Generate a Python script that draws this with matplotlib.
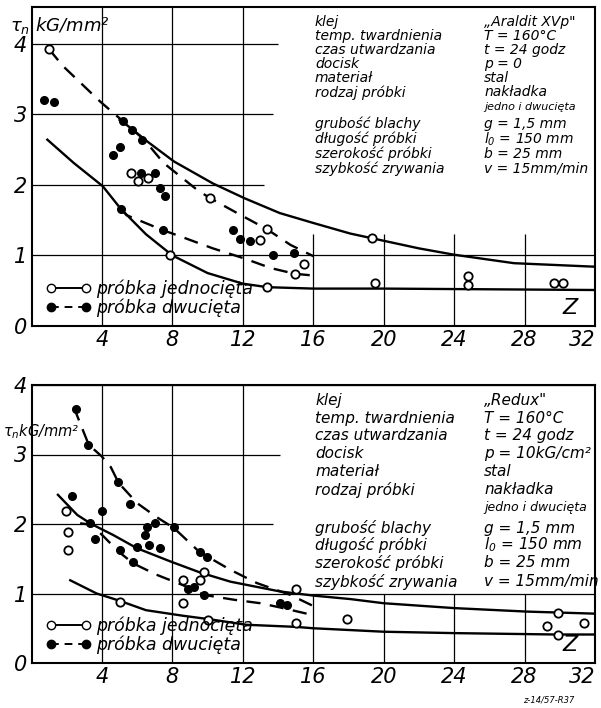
import numpy as np
import matplotlib
matplotlib.use('Agg')
from matplotlib import pyplot as plt
from matplotlib.lines import Line2D

plt.rcParams['font.family'] = ['DejaVu Sans']
plt.rcParams['font.style'] = 'italic'
plt.rcParams['mathtext.fontset'] = 'dejavusans'

# ---- upper panel (Araldit) ----
a_sol_up_x = [5.0, 5.4, 6.6, 8.1, 10.3, 12.1, 14.1, 16.0, 18.1, 19.4, 22.0, 24.0, 27.4, 32.0]
a_sol_up_y = [2.92, 2.85, 2.61, 2.33, 2.02, 1.81, 1.60, 1.46, 1.31, 1.24, 1.10, 1.01, 0.89, 0.84]
a_sol_lo_x = [0.9, 2.4, 4.05, 5.07, 6.5, 8.0, 10.0, 12.0, 13.4, 16.0, 20.0, 26.0, 32.0]
a_sol_lo_y = [2.64, 2.31, 1.98, 1.66, 1.30, 1.00, 0.75, 0.60, 0.55, 0.53, 0.53, 0.52, 0.51]
a_dash_up_x = [1.0, 1.8, 3.9, 5.2, 6.4, 7.5, 9.4, 10.15, 11.9, 13.38, 14.7, 16.0]
a_dash_up_y = [3.92, 3.68, 3.18, 2.90, 2.64, 2.31, 1.93, 1.81, 1.57, 1.37, 1.15, 0.99]
a_dash_lo_x = [5.07, 5.4, 7.44, 8.45, 10.3, 12.05, 13.6, 14.95, 15.8]
a_dash_lo_y = [1.66, 1.57, 1.36, 1.27, 1.10, 0.96, 0.82, 0.74, 0.72]
a_open_x = [1.0, 5.64, 6.02, 6.59, 7.88, 10.15, 12.96, 13.38, 13.4, 14.95, 15.46, 19.35,
            19.5, 24.8, 24.8, 29.7, 30.2]
a_open_y = [3.92, 2.17, 2.06, 2.09, 1.00, 1.81, 1.22, 1.37, 0.55, 0.74, 0.88, 1.24,
            0.61, 0.71, 0.58, 0.61, 0.61]
a_fill_x = [0.71, 1.28, 4.65, 5.05, 5.2, 5.7, 6.3, 6.2, 7.02, 7.27, 7.59, 5.07, 7.44,
            11.45, 11.84, 12.43, 13.72, 14.9]
a_fill_y = [3.20, 3.18, 2.43, 2.53, 2.90, 2.78, 2.64, 2.17, 2.17, 1.95, 1.84, 1.66, 1.36,
            1.36, 1.23, 1.20, 1.01, 1.04]
a_names = ['klej', 'temp. twardnienia', 'czas utwardzania', 'docisk', 'materiał',
           'rodzaj próbki', '', 'grubość blachy', 'długość próbki', 'szerokość próbki',
           'szybkość zrywania']
a_values = ['„Araldit XVp"', 'T = 160°C', 't = 24 godz', 'p = 0', 'stal', 'nakładka',
            'jedno i dwucięta', 'g = 1,5 mm', 'l$_0$ = 150 mm', 'b = 25 mm', 'v = 15mm/min']

# ---- lower panel (Redux) ----
r_dash_up_x = [2.4, 3.25, 4.0, 4.5, 4.95, 6.0, 7.1, 8.1, 9.4, 10.0, 11.3, 12.8, 14.7, 16.0]
r_dash_up_y = [3.68, 3.14, 2.97, 2.82, 2.59, 2.30, 2.10, 1.94, 1.63, 1.53, 1.34, 1.15, 0.98, 0.82]
r_dash_lo_x = [2.76, 3.4, 4.1, 4.95, 5.8, 7.1, 8.6, 9.8, 11.5, 13.0, 14.1, 15.8]
r_dash_lo_y = [2.01, 1.99, 1.82, 1.60, 1.43, 1.27, 1.12, 0.98, 0.91, 0.86, 0.80, 0.70]
r_sol_up_x = [1.5, 2.6, 3.4, 4.65, 6.0, 7.9, 9.6, 11.3, 14.1, 16.0, 18.1, 20.0, 24.0, 28.1, 32.0]
r_sol_up_y = [2.42, 2.13, 2.00, 1.84, 1.65, 1.46, 1.30, 1.17, 1.03, 0.97, 0.92, 0.86, 0.79, 0.74, 0.71]
r_sol_lo_x = [2.2, 3.7, 4.95, 6.5, 8.6, 10.1, 12.2, 15.0, 16.0, 20.0, 24.0, 29.8, 32.0]
r_sol_lo_y = [1.19, 1.00, 0.90, 0.76, 0.68, 0.63, 0.55, 0.52, 0.50, 0.45, 0.43, 0.41, 0.41]
r_open_x = [1.96, 2.1, 2.1, 5.03, 8.6, 9.58, 8.6, 9.77, 10.0, 15.0, 15.0, 17.9, 29.3,
            29.9, 29.9, 31.4]
r_open_y = [2.19, 1.89, 1.62, 0.88, 1.19, 1.19, 0.86, 1.31, 0.62, 1.07, 0.57, 0.64, 0.53,
            0.72, 0.40, 0.58]
r_fill_x = [2.53, 3.23, 2.29, 4.0, 3.33, 3.6, 4.94, 5.6, 6.55, 7.02, 6.45, 6.65, 7.31,
            8.07, 5.03, 5.98, 5.79, 8.9, 9.81, 9.58, 9.97, 14.1, 14.5, 9.2]
r_fill_y = [3.66, 3.14, 2.40, 2.18, 2.01, 1.79, 2.60, 2.29, 1.96, 2.01, 1.84, 1.70, 1.65,
            1.96, 1.63, 1.67, 1.45, 1.06, 0.98, 1.60, 1.53, 0.86, 0.83, 1.10]
r_names = ['klej', 'temp. twardnienia', 'czas utwardzania', 'docisk', 'materiał',
           'rodzaj próbki', '', 'grubość blachy', 'długość próbki', 'szerokość próbki',
           'szybkość zrywania']
r_values = ['„Redux"', 'T = 160°C', 't = 24 godz', 'p = 10kG/cm²', 'stal', 'nakładka',
            'jedno i dwucięta', 'g = 1,5 mm', 'l$_0$ = 150 mm', 'b = 25 mm', 'v = 15mm/min']

xticks = [4, 8, 12, 16, 20, 24, 28, 32]
yticks = [0, 1, 2, 3, 4]

fig = plt.figure(figsize=(6.01, 7.08), dpi=100)
ax1 = fig.add_axes([31.5/601, 1-326/708, 563.5/601, 319/708])
ax2 = fig.add_axes([31.5/601, 1-663/708, 563.5/601, 278/708])


def panel(ax, ytop, sol_up, sol_lo, dash_up, dash_lo, opn, fil, names, values,
          rows, hcut, vtop, tsize):
    ax.set_xlim(0, 32)
    ax.set_ylim(0, ytop)
    # grid drawn by hand so it stops at the text block
    ax.vlines([4, 8, 12], 0, ytop, color='k', lw=0.9, zorder=1)
    ax.vlines([16, 20, 24, 28], 0, vtop, color='k', lw=0.9, zorder=1)
    ax.hlines(1, 0, 32, color='k', lw=0.9, zorder=1)
    for yy, xe in zip([2, 3, 4], hcut):
        ax.hlines(yy, 0, xe, color='k', lw=0.9, zorder=1)

    ax.plot(sol_up[0], sol_up[1], 'k-', lw=1.7, zorder=3)
    ax.plot(sol_lo[0], sol_lo[1], 'k-', lw=1.7, zorder=3)
    ax.plot(dash_up[0], dash_up[1], 'k', ls=(0, (6, 4)), lw=1.7, zorder=3)
    ax.plot(dash_lo[0], dash_lo[1], 'k', ls=(0, (6, 4)), lw=1.7, zorder=3)
    ax.plot(opn[0], opn[1], 'o', ms=6, mfc='white', mec='k', mew=1.3, ls='none', zorder=4)
    ax.plot(fil[0], fil[1], 'o', ms=5.5, color='k', ls='none', zorder=4)

    for nm, val, yy in zip(names, values, rows):
        ax.text(16.1, yy, nm, fontsize=tsize, va='center', ha='left', zorder=5)
        fs = tsize - 2 if val.startswith('jedno') else tsize
        ax.text(25.7, yy, val, fontsize=fs, va='center', ha='left', zorder=5)

    ax.set_xticks(xticks)
    ax.set_xticklabels([str(t) for t in xticks], fontsize=15)
    ax.get_xticklabels()[-1].set_ha('right')
    ax.set_yticks(yticks)
    ax.set_yticklabels([str(t) for t in yticks], fontsize=15)
    ax.tick_params(length=0, pad=3)
    for s in ax.spines.values():
        s.set_linewidth(1.5)

    h1 = Line2D([], [], color='k', lw=1.4, marker='o', ms=6, mfc='white', mec='k')
    h2 = Line2D([], [], color='k', lw=1.4, ls=(0, (4, 3)), marker='o', ms=6, mfc='k')
    ax.legend([h1, h2], ['próbka jednocięta', 'próbka dwucięta'], loc='lower left',
              numpoints=2, frameon=False, fontsize=12.5, handlelength=2.6,
              handletextpad=0.3, labelspacing=0.05, borderaxespad=0.1,
              bbox_to_anchor=(0.01, 0.0))
    ax.text(30.6, 0.12, 'Z', fontsize=16, ha='center', va='bottom', zorder=5)


panel(ax1, 4.52,
      (a_sol_up_x, a_sol_up_y), (a_sol_lo_x, a_sol_lo_y),
      (a_dash_up_x, a_dash_up_y), (a_dash_lo_x, a_dash_lo_y),
      (a_open_x, a_open_y), (a_fill_x, a_fill_y),
      a_names, a_values,
      [4.31, 4.11, 3.91, 3.71, 3.51, 3.31, 3.10, 2.86, 2.65, 2.44, 2.23],
      [13.2, 13.7, 14.0], 1.3, 10)
panel(ax2, 4.0,
      (r_sol_up_x, r_sol_up_y), (r_sol_lo_x, r_sol_lo_y),
      (r_dash_up_x, r_dash_up_y), (r_dash_lo_x, r_dash_lo_y),
      (r_open_x, r_open_y), (r_fill_x, r_fill_y),
      r_names, r_values,
      [3.78, 3.52, 3.27, 3.01, 2.75, 2.49, 2.24, 1.94, 1.70, 1.44, 1.17],
      [13.7, 14.1, 32], 1.0, 11)

fig.text(10/601, 1-25/708, r'$\tau_n$ kG/mm²', fontsize=13, va='center', ha='left')
fig.text(3/601, 1-432/708, r'$\tau_n$kG/mm²', fontsize=10.5, va='center', ha='left')
fig.text(523/601, 1-700/708, 'z-14/57-R37', fontsize=6, va='center', ha='left')

plt.savefig('out.png', dpi=100)
